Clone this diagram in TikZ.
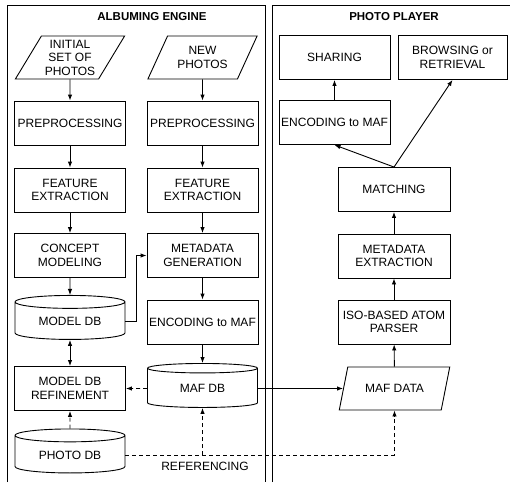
\documentclass[tikz,border=0pt]{standalone}
\usepackage{fontspec}
\setmainfont{Liberation Sans}
\usetikzlibrary{shapes.geometric,arrows.meta,positioning}

\begin{document}
\begin{tikzpicture}[x=1pt,y=-1pt,line width=0.9pt,>={Latex[length=6pt,width=4.5pt]},
   font=\fontsize{12}{13.5}\selectfont,
   box/.style={draw,rectangle,align=center,minimum width=111pt,minimum height=44pt,inner sep=1pt},
   iobox/.style={draw,trapezium,trapezium left angle=57,trapezium right angle=123,
     trapezium stretches=true,align=center,minimum width=110pt,minimum height=43pt,inner sep=0pt},
   dbbox/.style={draw,cylinder,shape border rotate=90,aspect=0.2,align=center,
     minimum width=110pt,minimum height=44pt,inner sep=1pt},
   title/.style={font=\fontsize{11.5}{13.3}\selectfont\bfseries},
   refline/.style={dash pattern=on 4pt off 3pt}]
   \useasboundingbox (0,0) rectangle (510,482);
   \draw (7,482) |- (265,5) -- (265,482);
   \draw (272,482) |- (510,5);
   \node[title] (engine) at (152,17) {ALBUMING ENGINE};
   \node[title] (player) at (394,17) {PHOTO PLAYER};
   % albuming engine
   \node[iobox] (init) at (70,57.5) {INITIAL\\SET OF\\PHOTOS};
   \node[iobox] (newp) at (202.5,57.5) {NEW\\PHOTOS};
   \node[box] (pre1) at (70,123) {PREPROCESSING};
   \node[box] (pre2) at (202.5,123) {PREPROCESSING};
   \node[box] (feat1) at (70,190) {FEATURE\\EXTRACTION};
   \node[box] (feat2) at (202.5,190) {FEATURE\\EXTRACTION};
   \node[box] (concept) at (70,255.5) {CONCEPT\\MODELING};
   \node[box] (metagen) at (202.5,255.5) {METADATA\\GENERATION};
   \node[dbbox] (modeldb) at (70,321.5) {MODEL DB};
   \node[box] (enc1) at (202.5,322) {ENCODING to MAF};
   \node[box] (refine) at (70,388.5) {MODEL DB\\REFINEMENT};
   \node[dbbox] (mafdb) at (202.5,388.5) {MAF DB};
   \node[dbbox] (photodb) at (70,455) {PHOTO DB};
   \node (reflabel) at (205,466) {REFERENCING};
   % photo player
   \node[box] (sharing) at (334.5,57.5) {SHARING};
   \node[box,minimum width=109pt] (browse) at (452.5,57.5) {BROWSING or\\RETRIEVAL};
   \node[box] (enc2) at (334.5,122.5) {ENCODING to MAF};
   \node[box,minimum width=112pt] (match) at (394,189.5) {MATCHING};
   \node[box,minimum width=112pt] (metaext) at (394,256) {METADATA\\EXTRACTION};
   \node[box,minimum width=112pt] (parser) at (394,322) {ISO-BASED ATOM\\PARSER};
   \node[iobox,minimum width=111pt] (mafdata) at (394.5,388.5) {MAF DATA};
   \coordinate (refjoin) at (mafdb.south |- photodb.east);
   \foreach \a/\b in {init/pre1,pre1/feat1,feat1/concept,concept/modeldb,
     newp/pre2,pre2/feat2,feat2/metagen,metagen/enc1,enc1/mafdb,
     mafdata/parser,parser/metaext,metaext/match,enc2/sharing}
     \draw[->] (\a) -- (\b);
   \draw[->] (modeldb.east) -- ++(11,0) |- (metagen.west);
   \draw[<->] (modeldb) -- (refine);
   \draw[->] (mafdb.east) -- (mafdata.west);
   \draw[->] (match.north) -- (enc2.south);
   \draw[->] (match.north) -- (browse.south);
   \draw[->,refline] (photodb) -- (refine);
   \draw[->,refline] (mafdb.west) -- (refine.east);
   \draw[->,refline] (photodb.east) -| (mafdata.south);
   \draw[->,refline] (refjoin) -- (mafdb.south);
\end{tikzpicture}
\end{document}
